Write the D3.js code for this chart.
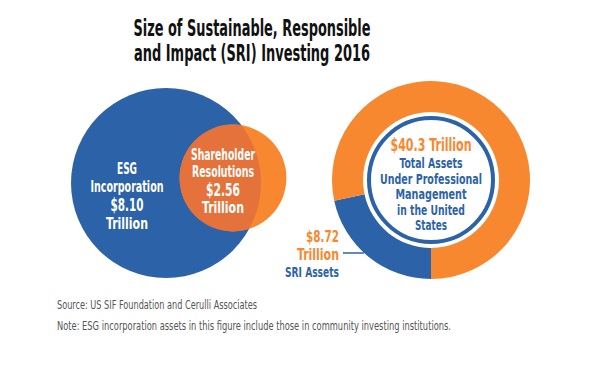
<!DOCTYPE html>
<html><head><meta charset="utf-8">
<script src="https://cdn.jsdelivr.net/npm/d3@7"></script>
<style>
html,body{margin:0;padding:0;background:#fff;}
svg text{font-family:"DejaVu Sans Condensed","Liberation Sans Narrow","Liberation Sans",sans-serif;}
</style></head>
<body>
<svg id="chart" width="611" height="372"></svg>
<script>
const titleLines = ["Size of Sustainable, Responsible", "and Impact (SRI) Investing 2016"];
const vennCategories = ["ESG Incorporation", "Shareholder Resolutions"];
const vennValues = [8.10, 2.56];
const vennLabels = [["ESG", "Incorporation", "$8.10", "Trillion"], ["Shareholder", "Resolutions", "$2.56", "Trillion"]];
const donutCategories = ["SRI Assets", "Other Assets"];
const totalAssets = 40.3;
const sriAssets = 8.72;
const donutCenterLines = ["Total Assets", "Under Professional", "Management", "in the United", "States"];
const footnotes = ["Source: US SIF Foundation and Cerulli Associates",
  "Note: ESG incorporation assets in this figure include those in community investing institutions."];

// layout: target rendered widths of each text (to mimic the condensed typeface)
const textWidths = {
  "Size of Sustainable, Responsible": 237, "and Impact (SRI) Investing 2016": 236,
  "ESG": 20, "Incorporation": 73, "$8.10": 33, "Trillion": 42,
  "Shareholder": 64, "Resolutions": 62, "$2.56": 34,
  "$40.3 Trillion": 81, "Total Assets": 63, "Under Professional": 102, "Management": 71,
  "in the United": 68, "States": 32, "$8.72": 33, "SRI Assets": 54,
  "Source: US SIF Foundation and Cerulli Associates": 200,
  "Note: ESG incorporation assets in this figure include those in community investing institutions.": 394
};
function fit(sel) {
  sel.each(function () {
    const t = d3.select(this).text();
    if (textWidths[t]) d3.select(this).attr("textLength", textWidths[t]).attr("lengthAdjust", "spacingAndGlyphs");
  });
}

const BLUE = "#2c62a8", ORANGE = "#f7882f", OVERLAP = "#e4723a";
const svg = d3.select("#chart");

// Title
svg.append("g").selectAll("text").data(titleLines).join("text")
  .attr("x", 252).attr("y", (d, i) => 28 + i * 25).attr("dy", "0.36em")
  .attr("text-anchor", "middle").attr("font-size", 23).attr("font-weight", "bold")
  .attr("fill", "#111").text(d => d).call(fit);

// Venn
const r = d3.scaleSqrt().domain([0, vennValues[0]]).range([0, 95]);
const vennCx = [166, 233], vennCy = [183, 178];
const defs = svg.append("defs");
defs.append("clipPath").attr("id", "blueClip").append("circle")
  .attr("cx", vennCx[0]).attr("cy", vennCy[0]).attr("r", r(vennValues[0]));
const venn = svg.append("g");
venn.append("circle").attr("cx", vennCx[0]).attr("cy", vennCy[0]).attr("r", r(vennValues[0])).attr("fill", BLUE);
venn.append("circle").attr("cx", vennCx[1]).attr("cy", vennCy[1]).attr("r", r(vennValues[1])).attr("fill", ORANGE);
venn.append("circle").attr("cx", vennCx[1]).attr("cy", vennCy[1]).attr("r", r(vennValues[1]))
  .attr("fill", OVERLAP).attr("clip-path", "url(#blueClip)");

const vennTextX = [127, 223], vennTextY = [168, 154], lh = [18, 17.5];
vennLabels.forEach((lines, k) => {
  venn.append("g").selectAll("text").data(lines).join("text")
    .attr("x", vennTextX[k]).attr("y", (d, i) => vennTextY[k] + i * lh[k] + (i >= 2 ? 1 : 0))
    .attr("dy", "0.36em").attr("text-anchor", "middle").attr("fill", "#fff")
    .attr("font-weight", "bold").attr("font-size", (d, i) => i === 2 ? 17 : 15.5).text(d => d).call(fit);
});

// Donut
const dcx = 431, dcy = 180;
const pie = d3.pie().sort(null).startAngle(Math.PI).endAngle(3 * Math.PI);
const arcs = pie([sriAssets, totalAssets - sriAssets]);
const arc = d3.arc().innerRadius(68).outerRadius(99);
const donut = svg.append("g").attr("transform", `translate(${dcx},${dcy})`);
donut.selectAll("path").data(arcs).join("path").attr("d", arc)
  .attr("fill", (d, i) => i === 0 ? BLUE : ORANGE);
donut.append("circle").attr("r", 62).attr("fill", "#fff").attr("stroke", BLUE).attr("stroke-width", 4);
donut.append("text").attr("x", 0).attr("y", -35).attr("dy", "0.36em").attr("text-anchor", "middle")
  .attr("fill", ORANGE).attr("font-weight", "bold").attr("font-size", 17)
  .text("$" + totalAssets.toFixed(1) + " Trillion").call(fit);
donut.append("g").selectAll("text").data(donutCenterLines).join("text")
  .attr("x", 0).attr("y", (d, i) => -17 + i * 15.5).attr("dy", "0.36em")
  .attr("text-anchor", "middle").attr("fill", BLUE).attr("font-weight", "bold").attr("font-size", 14.5)
  .text(d => d).call(fit);

// SRI label
const lab = svg.append("g");
lab.append("text").attr("x", 339).attr("y", 236).attr("dy", "0.36em").attr("text-anchor", "end")
  .attr("fill", ORANGE).attr("font-weight", "bold").attr("font-size", 16).text("$" + sriAssets.toFixed(2)).call(fit);
lab.append("text").attr("x", 339).attr("y", 254).attr("dy", "0.36em").attr("text-anchor", "end")
  .attr("fill", ORANGE).attr("font-weight", "bold").attr("font-size", 16).text("Trillion").call(fit);
lab.append("text").attr("x", 339).attr("y", 272).attr("dy", "0.36em").attr("text-anchor", "end")
  .attr("fill", BLUE).attr("font-weight", "bold").attr("font-size", 14.5).text(donutCategories[0]).call(fit);
lab.append("line").attr("x1", 343).attr("x2", 364).attr("y1", 253).attr("y2", 253)
  .attr("stroke", BLUE).attr("stroke-width", 1.5);

// Footnotes
svg.append("g").selectAll("text").data(footnotes).join("text")
  .attr("x", 57).attr("y", (d, i) => 304 + i * 21).attr("dy", "0.36em")
  .attr("fill", "#555").attr("font-size", 13).text(d => d).call(fit);
</script>
</body></html>
